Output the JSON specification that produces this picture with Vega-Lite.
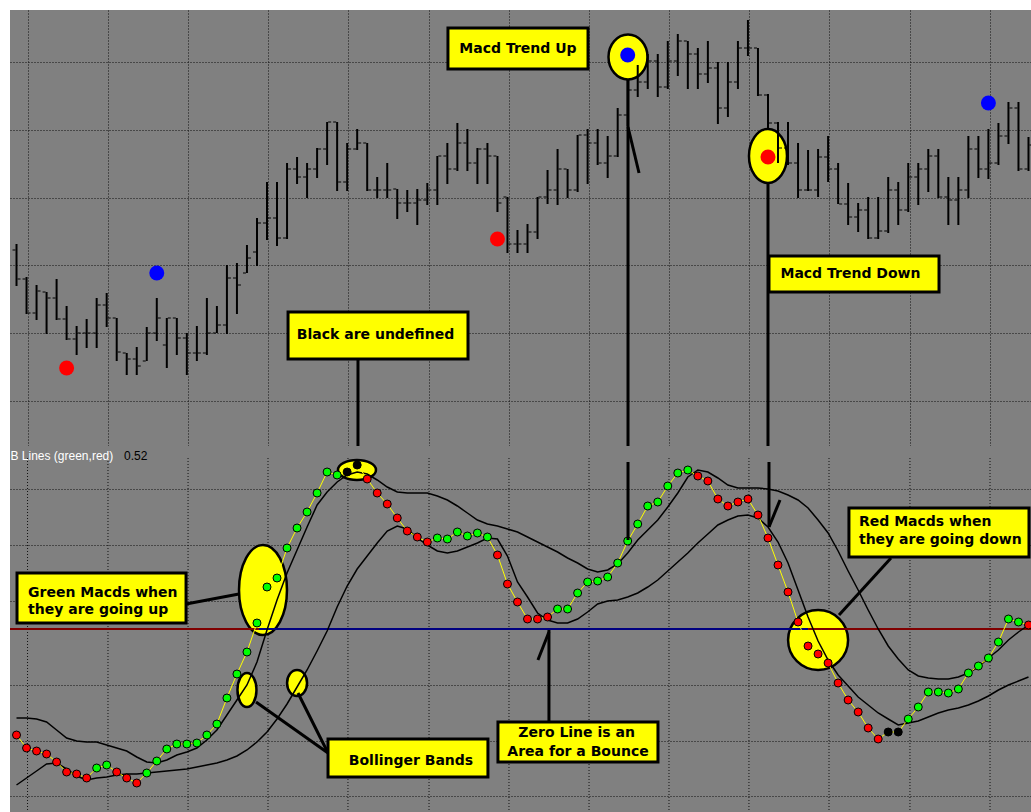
{
  "$schema": "https://vega.github.io/schema/vega-lite/v6.json",
  "background": "#ffffff",
  "padding": {"left": 9, "top": 10, "right": 0, "bottom": 0},
  "spacing": 0,
  "bounds": "flush",
  "resolve": {"scale": {"fill": "independent", "color": "independent"}},
  "config": {"view": {"stroke": null}},
  "datasets": {
    "bars": [
      {"i":0,"o":1.2197,"h":1.2203,"l":1.2161,"c":1.2168,"m":-0.106,"st":"down","ub":-0.089,"lb":-0.156},
      {"i":1,"o":1.2168,"h":1.2170,"l":1.2133,"c":1.2134,"m":-0.119,"st":"down","ub":-0.089,"lb":-0.149},
      {"i":2,"o":1.2134,"h":1.2162,"l":1.2127,"c":1.2156,"m":-0.122,"st":"down","ub":-0.090,"lb":-0.142},
      {"i":3,"o":1.2155,"h":1.2155,"l":1.2113,"c":1.2149,"m":-0.125,"st":"down","ub":-0.093,"lb":-0.135},
      {"i":4,"o":1.2149,"h":1.2168,"l":1.2127,"c":1.2128,"m":-0.133,"st":"down","ub":-0.101,"lb":-0.134},
      {"i":5,"o":1.2128,"h":1.2141,"l":1.2107,"c":1.2108,"m":-0.143,"st":"down","ub":-0.109,"lb":-0.140},
      {"i":6,"o":1.2108,"h":1.2121,"l":1.2092,"c":1.2114,"m":-0.145,"st":"down","ub":-0.112,"lb":-0.147},
      {"i":7,"o":1.2114,"h":1.2128,"l":1.2099,"c":1.2114,"m":-0.149,"st":"down","ub":-0.113,"lb":-0.151},
      {"i":8,"o":1.2114,"h":1.2149,"l":1.2099,"c":1.2142,"m":-0.139,"st":"up","ub":-0.113,"lb":-0.149},
      {"i":9,"o":1.2142,"h":1.2154,"l":1.2120,"c":1.2129,"m":-0.136,"st":"up","ub":-0.116,"lb":-0.148},
      {"i":10,"o":1.2129,"h":1.2129,"l":1.2086,"c":1.2095,"m":-0.143,"st":"down","ub":-0.119,"lb":-0.146},
      {"i":11,"o":1.2094,"h":1.2094,"l":1.2072,"c":1.2088,"m":-0.149,"st":"down","ub":-0.122,"lb":-0.145},
      {"i":12,"o":1.2088,"h":1.2100,"l":1.2072,"c":1.2081,"m":-0.154,"st":"down","ub":-0.128,"lb":-0.145},
      {"i":13,"o":1.2086,"h":1.2120,"l":1.2086,"c":1.2114,"m":-0.144,"st":"up","ub":-0.133,"lb":-0.144},
      {"i":14,"o":1.2114,"h":1.2149,"l":1.2106,"c":1.2129,"m":-0.132,"st":"up","ub":-0.134,"lb":-0.143},
      {"i":15,"o":1.2102,"h":1.2129,"l":1.2079,"c":1.2129,"m":-0.120,"st":"up","ub":-0.131,"lb":-0.142},
      {"i":16,"o":1.2129,"h":1.2129,"l":1.2092,"c":1.2109,"m":-0.115,"st":"up","ub":-0.126,"lb":-0.141},
      {"i":17,"o":1.2109,"h":1.2114,"l":1.2072,"c":1.2094,"m":-0.115,"st":"up","ub":-0.123,"lb":-0.140},
      {"i":18,"o":1.2094,"h":1.2121,"l":1.2086,"c":1.2094,"m":-0.114,"st":"up","ub":-0.119,"lb":-0.138},
      {"i":19,"o":1.2094,"h":1.2149,"l":1.2092,"c":1.2114,"m":-0.106,"st":"up","ub":-0.111,"lb":-0.136},
      {"i":20,"o":1.2114,"h":1.2141,"l":1.2114,"c":1.2122,"m":-0.095,"st":"up","ub":-0.101,"lb":-0.134},
      {"i":21,"o":1.2122,"h":1.2182,"l":1.2113,"c":1.2169,"m":-0.069,"st":"up","ub":-0.086,"lb":-0.131},
      {"i":22,"o":1.2169,"h":1.2184,"l":1.2133,"c":1.2162,"m":-0.045,"st":"up","ub":-0.071,"lb":-0.127},
      {"i":23,"o":1.2174,"h":1.2202,"l":1.2174,"c":1.2189,"m":-0.023,"st":"up","ub":-0.056,"lb":-0.121},
      {"i":24,"o":1.2195,"h":1.2229,"l":1.2181,"c":1.2224,"m":0.006,"st":"up","ub":-0.033,"lb":-0.113},
      {"i":25,"o":1.2224,"h":1.2265,"l":1.2207,"c":1.2229,"m":0.042,"st":"up","ub":-0.001,"lb":-0.103},
      {"i":26,"o":1.2229,"h":1.2265,"l":1.2201,"c":1.2209,"m":0.051,"st":"up","ub":0.029,"lb":-0.090},
      {"i":27,"o":1.2209,"h":1.2284,"l":1.2208,"c":1.2278,"m":0.081,"st":"up","ub":0.056,"lb":-0.075},
      {"i":28,"o":1.2278,"h":1.2290,"l":1.2263,"c":1.2270,"m":0.101,"st":"up","ub":0.079,"lb":-0.058},
      {"i":29,"o":1.2270,"h":1.2284,"l":1.2249,"c":1.2278,"m":0.117,"st":"up","ub":0.102,"lb":-0.041},
      {"i":30,"o":1.2278,"h":1.2299,"l":1.2269,"c":1.2298,"m":0.136,"st":"up","ub":0.124,"lb":-0.022},
      {"i":31,"o":1.2298,"h":1.2325,"l":1.2282,"c":1.2325,"m":0.157,"st":"up","ub":0.137,"lb":-0.002},
      {"i":32,"o":1.2325,"h":1.2325,"l":1.2256,"c":1.2265,"m":0.154,"st":"up","ub":0.147,"lb":0.022},
      {"i":33,"o":1.2265,"h":1.2304,"l":1.2256,"c":1.2298,"m":0.157,"st":"undef","ub":0.154,"lb":0.043},
      {"i":34,"o":1.2298,"h":1.2318,"l":1.2297,"c":1.2304,"m":0.164,"st":"undef","ub":0.157,"lb":0.060},
      {"i":35,"o":1.2304,"h":1.2304,"l":1.2256,"c":1.2257,"m":0.150,"st":"down","ub":0.155,"lb":0.073},
      {"i":36,"o":1.2257,"h":1.2270,"l":1.2249,"c":1.2257,"m":0.136,"st":"down","ub":0.149,"lb":0.086},
      {"i":37,"o":1.2257,"h":1.2284,"l":1.2249,"c":1.2257,"m":0.125,"st":"down","ub":0.142,"lb":0.098},
      {"i":38,"o":1.2258,"h":1.2258,"l":1.2228,"c":1.2244,"m":0.111,"st":"down","ub":0.137,"lb":0.103},
      {"i":39,"o":1.2244,"h":1.2257,"l":1.2235,"c":1.2244,"m":0.098,"st":"down","ub":0.136,"lb":0.100},
      {"i":40,"o":1.2244,"h":1.2258,"l":1.2222,"c":1.2247,"m":0.092,"st":"down","ub":0.136,"lb":0.091},
      {"i":41,"o":1.2247,"h":1.2264,"l":1.2242,"c":1.2257,"m":0.087,"st":"down","ub":0.136,"lb":0.084},
      {"i":42,"o":1.2257,"h":1.2291,"l":1.2242,"c":1.2291,"m":0.091,"st":"up","ub":0.133,"lb":0.078},
      {"i":43,"o":1.2291,"h":1.2304,"l":1.2263,"c":1.2278,"m":0.090,"st":"up","ub":0.129,"lb":0.076},
      {"i":44,"o":1.2278,"h":1.2324,"l":1.2276,"c":1.2304,"m":0.097,"st":"up","ub":0.123,"lb":0.078},
      {"i":45,"o":1.2304,"h":1.2318,"l":1.2276,"c":1.2284,"m":0.093,"st":"up","ub":0.116,"lb":0.082},
      {"i":46,"o":1.2284,"h":1.2299,"l":1.2263,"c":1.2298,"m":0.096,"st":"up","ub":0.109,"lb":0.086},
      {"i":47,"o":1.2298,"h":1.2304,"l":1.2263,"c":1.2291,"m":0.092,"st":"up","ub":0.105,"lb":0.091},
      {"i":48,"o":1.2291,"h":1.2291,"l":1.2235,"c":1.2244,"m":0.074,"st":"down","ub":0.103,"lb":0.090},
      {"i":49,"o":1.2250,"h":1.2250,"l":1.2194,"c":1.2203,"m":0.045,"st":"down","ub":0.100,"lb":0.073},
      {"i":50,"o":1.2203,"h":1.2217,"l":1.2194,"c":1.2203,"m":0.027,"st":"down","ub":0.097,"lb":0.047},
      {"i":51,"o":1.2203,"h":1.2223,"l":1.2194,"c":1.2215,"m":0.010,"st":"down","ub":0.092,"lb":0.032},
      {"i":52,"o":1.2215,"h":1.2250,"l":1.2208,"c":1.2250,"m":0.010,"st":"down","ub":0.087,"lb":0.016},
      {"i":53,"o":1.2250,"h":1.2277,"l":1.2243,"c":1.2257,"m":0.012,"st":"down","ub":0.082,"lb":0.009},
      {"i":54,"o":1.2257,"h":1.2298,"l":1.2242,"c":1.2278,"m":0.020,"st":"up","ub":0.077,"lb":0.006},
      {"i":55,"o":1.2278,"h":1.2278,"l":1.2249,"c":1.2257,"m":0.020,"st":"up","ub":0.071,"lb":0.006},
      {"i":56,"o":1.2257,"h":1.2312,"l":1.2255,"c":1.2312,"m":0.036,"st":"up","ub":0.066,"lb":0.010},
      {"i":57,"o":1.2312,"h":1.2318,"l":1.2263,"c":1.2304,"m":0.047,"st":"up","ub":0.060,"lb":0.017},
      {"i":58,"o":1.2304,"h":1.2318,"l":1.2282,"c":1.2284,"m":0.048,"st":"up","ub":0.057,"lb":0.025},
      {"i":59,"o":1.2284,"h":1.2311,"l":1.2269,"c":1.2291,"m":0.052,"st":"up","ub":0.059,"lb":0.028},
      {"i":60,"o":1.2291,"h":1.2339,"l":1.2290,"c":1.2332,"m":0.066,"st":"up","ub":0.065,"lb":0.029},
      {"i":61,"o":1.2332,"h":1.2367,"l":1.2321,"c":1.2357,"m":0.088,"st":"up","ub":0.076,"lb":0.032},
      {"i":62,"o":1.2357,"h":1.2382,"l":1.2350,"c":1.2365,"m":0.105,"st":"up","ub":0.089,"lb":0.036},
      {"i":63,"o":1.2365,"h":1.2393,"l":1.2358,"c":1.2386,"m":0.123,"st":"up","ub":0.099,"lb":0.042},
      {"i":64,"o":1.2386,"h":1.2393,"l":1.2350,"c":1.2360,"m":0.127,"st":"up","ub":0.109,"lb":0.049},
      {"i":65,"o":1.2360,"h":1.2406,"l":1.2358,"c":1.2386,"m":0.143,"st":"up","ub":0.122,"lb":0.058},
      {"i":66,"o":1.2386,"h":1.2413,"l":1.2371,"c":1.2406,"m":0.156,"st":"up","ub":0.136,"lb":0.067},
      {"i":67,"o":1.2406,"h":1.2406,"l":1.2358,"c":1.2393,"m":0.159,"st":"up","ub":0.152,"lb":0.076},
      {"i":68,"o":1.2393,"h":1.2399,"l":1.2358,"c":1.2373,"m":0.153,"st":"down","ub":0.159,"lb":0.086},
      {"i":69,"o":1.2373,"h":1.2406,"l":1.2364,"c":1.2379,"m":0.148,"st":"down","ub":0.157,"lb":0.095},
      {"i":70,"o":1.2379,"h":1.2385,"l":1.2323,"c":1.2339,"m":0.130,"st":"down","ub":0.151,"lb":0.104},
      {"i":71,"o":1.2339,"h":1.2385,"l":1.2330,"c":1.2365,"m":0.123,"st":"down","ub":0.144,"lb":0.109},
      {"i":72,"o":1.2365,"h":1.2406,"l":1.2358,"c":1.2399,"m":0.127,"st":"down","ub":0.141,"lb":0.113},
      {"i":73,"o":1.2399,"h":1.2427,"l":1.2391,"c":1.2399,"m":0.130,"st":"down","ub":0.141,"lb":0.114},
      {"i":74,"o":1.2399,"h":1.2399,"l":1.2351,"c":1.2352,"m":0.114,"st":"down","ub":0.141,"lb":0.111},
      {"i":75,"o":1.2352,"h":1.2353,"l":1.2317,"c":1.2324,"m":0.091,"st":"down","ub":0.140,"lb":0.102},
      {"i":76,"o":1.2324,"h":1.2325,"l":1.2284,"c":1.2299,"m":0.064,"st":"down","ub":0.138,"lb":0.087},
      {"i":77,"o":1.2299,"h":1.2325,"l":1.2282,"c":1.2284,"m":0.037,"st":"down","ub":0.134,"lb":0.066},
      {"i":78,"o":1.2284,"h":1.2304,"l":1.2249,"c":1.2257,"m":0.007,"st":"down","ub":0.129,"lb":0.039},
      {"i":79,"o":1.2257,"h":1.2297,"l":1.2256,"c":1.2257,"m":-0.017,"st":"down","ub":0.121,"lb":0.012},
      {"i":80,"o":1.2257,"h":1.2298,"l":1.2250,"c":1.2290,"m":-0.025,"st":"down","ub":0.109,"lb":-0.012},
      {"i":81,"o":1.2290,"h":1.2311,"l":1.2265,"c":1.2278,"m":-0.034,"st":"down","ub":0.096,"lb":-0.031},
      {"i":82,"o":1.2278,"h":1.2284,"l":1.2243,"c":1.2243,"m":-0.054,"st":"down","ub":0.078,"lb":-0.046},
      {"i":83,"o":1.2243,"h":1.2264,"l":1.2222,"c":1.2230,"m":-0.071,"st":"down","ub":0.058,"lb":-0.057},
      {"i":84,"o":1.2230,"h":1.2244,"l":1.2215,"c":1.2237,"m":-0.083,"st":"down","ub":0.039,"lb":-0.068},
      {"i":85,"o":1.2237,"h":1.2250,"l":1.2208,"c":1.2209,"m":-0.099,"st":"down","ub":0.019,"lb":-0.076},
      {"i":86,"o":1.2209,"h":1.2250,"l":1.2208,"c":1.2216,"m":-0.110,"st":"down","ub":0.000,"lb":-0.084},
      {"i":87,"o":1.2216,"h":1.2270,"l":1.2214,"c":1.2257,"m":-0.103,"st":"undef","ub":-0.017,"lb":-0.090},
      {"i":88,"o":1.2257,"h":1.2265,"l":1.2222,"c":1.2237,"m":-0.103,"st":"undef","ub":-0.030,"lb":-0.096},
      {"i":89,"o":1.2237,"h":1.2284,"l":1.2235,"c":1.2270,"m":-0.090,"st":"up","ub":-0.041,"lb":-0.094},
      {"i":90,"o":1.2270,"h":1.2284,"l":1.2242,"c":1.2278,"m":-0.078,"st":"up","ub":-0.047,"lb":-0.092},
      {"i":91,"o":1.2278,"h":1.2298,"l":1.2255,"c":1.2291,"m":-0.063,"st":"up","ub":-0.049,"lb":-0.088},
      {"i":92,"o":1.2291,"h":1.2298,"l":1.2249,"c":1.2250,"m":-0.063,"st":"up","ub":-0.050,"lb":-0.084},
      {"i":93,"o":1.2250,"h":1.2270,"l":1.2222,"c":1.2247,"m":-0.064,"st":"up","ub":-0.050,"lb":-0.081},
      {"i":94,"o":1.2247,"h":1.2270,"l":1.2222,"c":1.2257,"m":-0.060,"st":"up","ub":-0.048,"lb":-0.079},
      {"i":95,"o":1.2257,"h":1.2311,"l":1.2249,"c":1.2298,"m":-0.044,"st":"up","ub":-0.044,"lb":-0.076},
      {"i":96,"o":1.2298,"h":1.2311,"l":1.2269,"c":1.2278,"m":-0.037,"st":"up","ub":-0.038,"lb":-0.072},
      {"i":97,"o":1.2278,"h":1.2318,"l":1.2268,"c":1.2284,"m":-0.029,"st":"up","ub":-0.029,"lb":-0.067},
      {"i":98,"o":1.2284,"h":1.2324,"l":1.2282,"c":1.2311,"m":-0.013,"st":"up","ub":-0.021,"lb":-0.061},
      {"i":99,"o":1.2311,"h":1.2345,"l":1.2303,"c":1.2339,"m":0.010,"st":"up","ub":-0.011,"lb":-0.056},
      {"i":100,"o":1.2339,"h":1.2345,"l":1.2276,"c":1.2278,"m":0.007,"st":"up","ub":-0.003,"lb":-0.052},
      {"i":101,"o":1.2278,"h":1.2310,"l":1.2276,"c":1.2302,"m":0.004,"st":"down","ub":0.004,"lb":-0.048}
    ],
    "signals": [
      {"i":5,"p":1.2079,"dir":"sell"},
      {"i":14,"p":1.2174,"dir":"buy"},
      {"i":48,"p":1.2208,"dir":"sell"},
      {"i":61,"p":1.2392,"dir":"buy"},
      {"i":75,"p":1.2290,"dir":"sell"},
      {"i":97,"p":1.2344,"dir":"buy"}
    ],
    "ellipses": [
      {"name":"up","i":61.03,"v":1.2390},
      {"name":"down","i":75.0,"v":1.2291},
      {"name":"green","i":24.6,"v":0.039},
      {"name":"e1","i":23.0,"v":-0.061},
      {"name":"e2","i":28.0,"v":-0.054},
      {"name":"red","i":80.0,"v":-0.011},
      {"name":"blob","i":33.98,"v":0.159}
    ],
    "connTop": [
      {"x1":34.08,"y1":1.2088,"x2":34.08,"y2":1.2001},
      {"x1":61.03,"y1":1.2368,"x2":61.03,"y2":1.2001},
      {"x1":61.03,"y1":1.2320,"x2":62.13,"y2":1.2274},
      {"x1":75.0,"y1":1.2264,"x2":75.0,"y2":1.2001}
    ],
    "boxTop": [
      {"x1":27.10,"x2":45.06,"y1":1.2135,"y2":1.2088},
      {"x1":43.06,"x2":57.04,"y1":1.2419,"y2":1.2378},
      {"x1":75.1,"x2":92.07,"y1":1.2191,"y2":1.2155}
    ],
    "txtTop": [
      {"x":35.83,"y":1.2112,"t":"Black are undefined"},
      {"x":50.05,"y":1.2398,"t":"Macd Trend Up"},
      {"x":83.23,"y":1.2173,"t":"Macd Trend Down"}
    ],
    "connLow": [
      {"x1":16.92,"y1":0.025,"x2":22.2,"y2":0.035},
      {"x1":23.9,"y1":-0.073,"x2":31.09,"y2":-0.124},
      {"x1":28.09,"y1":-0.064,"x2":30.99,"y2":-0.122},
      {"x1":53.14,"y1":-0.001,"x2":53.14,"y2":-0.093},
      {"x1":53.14,"y1":-0.003,"x2":52.04,"y2":-0.031},
      {"x1":87.28,"y1":0.071,"x2":82.09,"y2":0.014},
      {"x1":61.03,"y1":0.167,"x2":61.03,"y2":0.089},
      {"x1":75.1,"y1":0.167,"x2":75.1,"y2":0.102},
      {"x1":75.1,"y1":0.102,"x2":76.2,"y2":0.129}
    ],
    "boxLow": [
      {"x1":0.05,"x2":16.92,"y1":0.056,"y2":0.006},
      {"x1":31.09,"x2":47.05,"y1":-0.110,"y2":-0.148},
      {"x1":48.05,"x2":64.02,"y1":-0.093,"y2":-0.133},
      {"x1":83.08,"x2":101.05,"y1":0.121,"y2":0.072}
    ],
    "txtLowLeft": [
      {"x":1.15,"y":0.036,"t":"Green Macds when"},
      {"x":1.15,"y":0.019,"t":"they are going up"},
      {"x":84.08,"y":0.107,"t":"Red Macds when"},
      {"x":84.08,"y":0.089,"t":"they are going down"}
    ],
    "txtLowCenter": [
      {"x":39.37,"y":-0.132,"t":"Bollinger Bands"},
      {"x":55.9,"y":-0.104,"t":"Zero Line is an"},
      {"x":56.04,"y":-0.123,"t":"Area for a Bounce"}
    ],
    "zero": [
      {"x1":-0.65,"x2":24.2,"s":"neg"},
      {"x1":24.2,"x2":79.0,"s":"pos"},
      {"x1":79.0,"x2":101.35,"s":"neg"}
    ],
    "gridx": [
      {"g":1.10},{"g":9.13},{"g":17.12},{"g":25.10},{"g":33.08},{"g":41.17},{"g":49.15},
      {"g":57.14},{"g":65.12},{"g":73.10},{"g":81.09},{"g":89.17},{"g":97.16}
    ],
    "hdrWhite": [{"x":-0.6,"y":0.173,"t":"B Lines (green,red)"}],
    "hdrBlack": [{"x":10.73,"y":0.173,"t":"0.52"}]
  },
  "vconcat": [
    {
      "width": 1022,
      "height": 436,
      "view": {"fill": "#808080", "stroke": null},
      "layer": [
        {
          "data": {"name": "ellipses"},
          "transform": [{"filter": "datum.name == 'up'"}],
          "mark": {"type": "point", "shape": "M0.867,0C0.867,0.552,0.479,1,0,1C-0.479,1,-0.867,0.552,-0.867,0C-0.867,-0.552,-0.479,-1,0,-1C0.479,-1,0.867,-0.552,0.867,0Z", "size": 2025, "filled": true, "fill": "#ffff00", "stroke": "#000000", "strokeWidth": 2.5, "opacity": 1},
          "encoding": {
            "x": {"field": "i", "type": "quantitative", "scale": {"domain": [-0.65, 101.35], "nice": false, "zero": false},
                  "axis": {"values": [1.10, 9.13, 17.12, 25.10, 33.08, 41.17, 49.15, 57.14, 65.12, 73.10, 81.09, 89.17, 97.16], "grid": true, "labels": false, "ticks": false, "domain": false, "title": null, "gridColor": "#111111", "gridDash": [1, 2], "gridWidth": 1, "gridOpacity": 1}},
            "y": {"field": "v", "type": "quantitative", "scale": {"domain": [1.2001, 1.2437], "nice": false, "zero": false},
                  "axis": {"values": [1.2046, 1.2114, 1.2182, 1.2249, 1.2317, 1.2385], "grid": true, "labels": false, "ticks": false, "domain": false, "title": null, "gridColor": "#111111", "gridDash": [1, 2], "gridWidth": 1, "gridOpacity": 1}}
          }
        },
        {
          "data": {"name": "ellipses"},
          "transform": [{"filter": "datum.name == 'down'"}],
          "mark": {"type": "point", "shape": "M0.704,0C0.704,0.552,0.389,1,0,1C-0.389,1,-0.704,0.552,-0.704,0C-0.704,-0.552,-0.389,-1,0,-1C0.389,-1,0.704,-0.552,0.704,0Z", "size": 2916, "filled": true, "fill": "#ffff00", "stroke": "#000000", "strokeWidth": 2.5, "opacity": 1},
          "encoding": {
            "x": {"field": "i", "type": "quantitative", "scale": {"domain": [-0.65, 101.35], "nice": false, "zero": false}},
            "y": {"field": "v", "type": "quantitative", "scale": {"domain": [1.2001, 1.2437], "nice": false, "zero": false}}
          }
        },
        {
          "data": {"name": "bars"},
          "mark": {"type": "rule", "color": "#000000", "strokeWidth": 2},
          "encoding": {
            "x": {"field": "i", "type": "quantitative", "scale": {"domain": [-0.65, 101.35], "nice": false, "zero": false}},
            "y": {"field": "h", "type": "quantitative", "scale": {"domain": [1.2001, 1.2437], "nice": false, "zero": false}},
            "y2": {"field": "l"}
          }
        },
        {
          "data": {"name": "bars"},
          "mark": {"type": "tick", "orient": "horizontal", "size": 3, "thickness": 1, "xOffset": -2.5, "color": "#000000", "opacity": 1},
          "encoding": {
            "x": {"field": "i", "type": "quantitative", "scale": {"domain": [-0.65, 101.35], "nice": false, "zero": false}},
            "y": {"field": "o", "type": "quantitative", "scale": {"domain": [1.2001, 1.2437], "nice": false, "zero": false}}
          }
        },
        {
          "data": {"name": "bars"},
          "mark": {"type": "tick", "orient": "horizontal", "size": 3, "thickness": 1, "xOffset": 2.5, "color": "#000000", "opacity": 1},
          "encoding": {
            "x": {"field": "i", "type": "quantitative", "scale": {"domain": [-0.65, 101.35], "nice": false, "zero": false}},
            "y": {"field": "c", "type": "quantitative", "scale": {"domain": [1.2001, 1.2437], "nice": false, "zero": false}}
          }
        },
        {
          "data": {"name": "signals"},
          "mark": {"type": "point", "shape": "circle", "size": 225, "filled": true, "strokeWidth": 0, "opacity": 1},
          "encoding": {
            "x": {"field": "i", "type": "quantitative", "scale": {"domain": [-0.65, 101.35], "nice": false, "zero": false}},
            "y": {"field": "p", "type": "quantitative", "scale": {"domain": [1.2001, 1.2437], "nice": false, "zero": false}},
            "fill": {"field": "dir", "type": "nominal", "scale": {"domain": ["buy", "sell"], "range": ["#0000ff", "#ff0000"]}, "legend": null}
          }
        },
        {
          "data": {"name": "connTop"},
          "mark": {"type": "rule", "color": "#000000", "strokeWidth": 3},
          "encoding": {
            "x": {"field": "x1", "type": "quantitative", "scale": {"domain": [-0.65, 101.35], "nice": false, "zero": false}},
            "x2": {"field": "x2"},
            "y": {"field": "y1", "type": "quantitative", "scale": {"domain": [1.2001, 1.2437], "nice": false, "zero": false}},
            "y2": {"field": "y2"}
          }
        },
        {
          "data": {"name": "boxTop"},
          "mark": {"type": "rect", "fill": "#ffff00", "stroke": "#000000", "strokeWidth": 3},
          "encoding": {
            "x": {"field": "x1", "type": "quantitative", "scale": {"domain": [-0.65, 101.35], "nice": false, "zero": false}},
            "x2": {"field": "x2"},
            "y": {"field": "y1", "type": "quantitative", "scale": {"domain": [1.2001, 1.2437], "nice": false, "zero": false}},
            "y2": {"field": "y2"}
          }
        },
        {
          "data": {"name": "txtTop"},
          "mark": {"type": "text", "font": "DejaVu Sans", "fontWeight": "bold", "fontSize": 14, "color": "#000000", "align": "center", "baseline": "middle"},
          "encoding": {
            "x": {"field": "x", "type": "quantitative", "scale": {"domain": [-0.65, 101.35], "nice": false, "zero": false}},
            "y": {"field": "y", "type": "quantitative", "scale": {"domain": [1.2001, 1.2437], "nice": false, "zero": false}},
            "text": {"field": "t"}
          }
        }
      ]
    },
    {
      "width": 1022,
      "height": 366,
      "view": {"fill": "#808080", "stroke": null},
      "layer": [
        {
          "data": {"name": "gridx"},
          "mark": {"type": "rule", "color": "#111111", "strokeWidth": 1, "strokeDash": [1, 2]},
          "encoding": {
            "x": {"field": "g", "type": "quantitative", "scale": {"domain": [-0.65, 101.35], "nice": false, "zero": false}, "axis": null},
            "y": {"datum": 0.171, "type": "quantitative", "scale": {"domain": [-0.183, 0.183], "nice": false, "zero": false},
                  "axis": {"values": [-0.1674, -0.1395, -0.1116, -0.0837, -0.0558, -0.0279, 0.0279, 0.0558, 0.0837, 0.1116, 0.1395], "grid": true, "labels": false, "ticks": false, "domain": false, "title": null, "gridColor": "#111111", "gridDash": [1, 2], "gridWidth": 1, "gridOpacity": 1}},
            "y2": {"datum": -0.183}
          }
        },
        {
          "data": {"name": "ellipses"},
          "transform": [{"filter": "datum.name == 'green'"}],
          "mark": {"type": "point", "shape": "M0.533,0C0.533,0.552,0.294,1,0,1C-0.294,1,-0.533,0.552,-0.533,0C-0.533,-0.552,-0.294,-1,0,-1C0.294,-1,0.533,-0.552,0.533,0Z", "size": 8100, "filled": true, "fill": "#ffff00", "stroke": "#000000", "strokeWidth": 2.5, "opacity": 1},
          "encoding": {
            "x": {"field": "i", "type": "quantitative", "scale": {"domain": [-0.65, 101.35], "nice": false, "zero": false}},
            "y": {"field": "v", "type": "quantitative", "scale": {"domain": [-0.183, 0.183], "nice": false, "zero": false}}
          }
        },
        {
          "data": {"name": "ellipses"},
          "transform": [{"filter": "datum.name == 'e1'"}],
          "mark": {"type": "point", "shape": "M0.559,0C0.559,0.552,0.309,1,0,1C-0.309,1,-0.559,0.552,-0.559,0C-0.559,-0.552,-0.309,-1,0,-1C0.309,-1,0.559,-0.552,0.559,0Z", "size": 1156, "filled": true, "fill": "#ffff00", "stroke": "#000000", "strokeWidth": 2.5, "opacity": 1},
          "encoding": {
            "x": {"field": "i", "type": "quantitative", "scale": {"domain": [-0.65, 101.35], "nice": false, "zero": false}},
            "y": {"field": "v", "type": "quantitative", "scale": {"domain": [-0.183, 0.183], "nice": false, "zero": false}}
          }
        },
        {
          "data": {"name": "ellipses"},
          "transform": [{"filter": "datum.name == 'e2'"}],
          "mark": {"type": "point", "shape": "M0.769,0C0.769,0.552,0.425,1,0,1C-0.425,1,-0.769,0.552,-0.769,0C-0.769,-0.552,-0.425,-1,0,-1C0.425,-1,0.769,-0.552,0.769,0Z", "size": 676, "filled": true, "fill": "#ffff00", "stroke": "#000000", "strokeWidth": 2.5, "opacity": 1},
          "encoding": {
            "x": {"field": "i", "type": "quantitative", "scale": {"domain": [-0.65, 101.35], "nice": false, "zero": false}},
            "y": {"field": "v", "type": "quantitative", "scale": {"domain": [-0.183, 0.183], "nice": false, "zero": false}}
          }
        },
        {
          "data": {"name": "ellipses"},
          "transform": [{"filter": "datum.name == 'red'"}],
          "mark": {"type": "point", "shape": "circle", "size": 3600, "filled": true, "fill": "#ffff00", "stroke": "#000000", "strokeWidth": 2.5, "opacity": 1},
          "encoding": {
            "x": {"field": "i", "type": "quantitative", "scale": {"domain": [-0.65, 101.35], "nice": false, "zero": false}},
            "y": {"field": "v", "type": "quantitative", "scale": {"domain": [-0.183, 0.183], "nice": false, "zero": false}}
          }
        },
        {
          "data": {"name": "ellipses"},
          "transform": [{"filter": "datum.name == 'blob'"}],
          "mark": {"type": "point", "shape": "M1,0C1,0.291,0.552,0.526,0,0.526C-0.552,0.526,-1,0.291,-1,0C-1,-0.291,-0.552,-0.526,0,-0.526C0.552,-0.526,1,-0.291,1,0Z", "size": 1444, "filled": true, "fill": "#ffff00", "stroke": "#000000", "strokeWidth": 2.5, "opacity": 1},
          "encoding": {
            "x": {"field": "i", "type": "quantitative", "scale": {"domain": [-0.65, 101.35], "nice": false, "zero": false}},
            "y": {"field": "v", "type": "quantitative", "scale": {"domain": [-0.183, 0.183], "nice": false, "zero": false}}
          }
        },
        {
          "data": {"name": "zero"},
          "mark": {"type": "rule", "strokeWidth": 2},
          "encoding": {
            "x": {"field": "x1", "type": "quantitative", "scale": {"domain": [-0.65, 101.35], "nice": false, "zero": false}},
            "x2": {"field": "x2"},
            "y": {"datum": 0, "type": "quantitative", "scale": {"domain": [-0.183, 0.183], "nice": false, "zero": false}},
            "color": {"field": "s", "type": "nominal", "scale": {"domain": ["neg", "pos"], "range": ["#800000", "#000080"]}, "legend": null}
          }
        },
        {
          "data": {"name": "bars"},
          "mark": {"type": "line", "color": "#000000", "strokeWidth": 1.5},
          "encoding": {
            "x": {"field": "i", "type": "quantitative", "scale": {"domain": [-0.65, 101.35], "nice": false, "zero": false}},
            "y": {"field": "ub", "type": "quantitative", "scale": {"domain": [-0.183, 0.183], "nice": false, "zero": false}}
          }
        },
        {
          "data": {"name": "bars"},
          "mark": {"type": "line", "color": "#000000", "strokeWidth": 1.5},
          "encoding": {
            "x": {"field": "i", "type": "quantitative", "scale": {"domain": [-0.65, 101.35], "nice": false, "zero": false}},
            "y": {"field": "lb", "type": "quantitative", "scale": {"domain": [-0.183, 0.183], "nice": false, "zero": false}}
          }
        },
        {
          "data": {"name": "bars"},
          "mark": {"type": "line", "color": "#ffff00", "strokeWidth": 1},
          "encoding": {
            "x": {"field": "i", "type": "quantitative", "scale": {"domain": [-0.65, 101.35], "nice": false, "zero": false}},
            "y": {"field": "m", "type": "quantitative", "scale": {"domain": [-0.183, 0.183], "nice": false, "zero": false}}
          }
        },
        {
          "data": {"name": "bars"},
          "mark": {"type": "point", "shape": "circle", "size": 64, "filled": true, "stroke": "#000000", "strokeWidth": 1, "opacity": 1},
          "encoding": {
            "x": {"field": "i", "type": "quantitative", "scale": {"domain": [-0.65, 101.35], "nice": false, "zero": false}},
            "y": {"field": "m", "type": "quantitative", "scale": {"domain": [-0.183, 0.183], "nice": false, "zero": false}},
            "fill": {"field": "st", "type": "nominal", "scale": {"domain": ["up", "down", "undef"], "range": ["#00ff00", "#ff0000", "#000000"]}, "legend": null}
          }
        },
        {
          "data": {"name": "connLow"},
          "mark": {"type": "rule", "color": "#000000", "strokeWidth": 3},
          "encoding": {
            "x": {"field": "x1", "type": "quantitative", "scale": {"domain": [-0.65, 101.35], "nice": false, "zero": false}},
            "x2": {"field": "x2"},
            "y": {"field": "y1", "type": "quantitative", "scale": {"domain": [-0.183, 0.183], "nice": false, "zero": false}},
            "y2": {"field": "y2"}
          }
        },
        {
          "data": {"name": "boxLow"},
          "mark": {"type": "rect", "fill": "#ffff00", "stroke": "#000000", "strokeWidth": 3},
          "encoding": {
            "x": {"field": "x1", "type": "quantitative", "scale": {"domain": [-0.65, 101.35], "nice": false, "zero": false}},
            "x2": {"field": "x2"},
            "y": {"field": "y1", "type": "quantitative", "scale": {"domain": [-0.183, 0.183], "nice": false, "zero": false}},
            "y2": {"field": "y2"}
          }
        },
        {
          "data": {"name": "txtLowLeft"},
          "mark": {"type": "text", "font": "DejaVu Sans", "fontWeight": "bold", "fontSize": 14, "color": "#000000", "align": "left", "baseline": "middle"},
          "encoding": {
            "x": {"field": "x", "type": "quantitative", "scale": {"domain": [-0.65, 101.35], "nice": false, "zero": false}},
            "y": {"field": "y", "type": "quantitative", "scale": {"domain": [-0.183, 0.183], "nice": false, "zero": false}},
            "text": {"field": "t"}
          }
        },
        {
          "data": {"name": "txtLowCenter"},
          "mark": {"type": "text", "font": "DejaVu Sans", "fontWeight": "bold", "fontSize": 14, "color": "#000000", "align": "center", "baseline": "middle"},
          "encoding": {
            "x": {"field": "x", "type": "quantitative", "scale": {"domain": [-0.65, 101.35], "nice": false, "zero": false}},
            "y": {"field": "y", "type": "quantitative", "scale": {"domain": [-0.183, 0.183], "nice": false, "zero": false}},
            "text": {"field": "t"}
          }
        },
        {
          "data": {"name": "hdrWhite"},
          "mark": {"type": "text", "font": "Liberation Sans", "fontSize": 12, "color": "#ffffff", "align": "left", "baseline": "middle"},
          "encoding": {
            "x": {"field": "x", "type": "quantitative", "scale": {"domain": [-0.65, 101.35], "nice": false, "zero": false}},
            "y": {"field": "y", "type": "quantitative", "scale": {"domain": [-0.183, 0.183], "nice": false, "zero": false}},
            "text": {"field": "t"}
          }
        },
        {
          "data": {"name": "hdrBlack"},
          "mark": {"type": "text", "font": "Liberation Sans", "fontSize": 12, "color": "#000000", "align": "left", "baseline": "middle"},
          "encoding": {
            "x": {"field": "x", "type": "quantitative", "scale": {"domain": [-0.65, 101.35], "nice": false, "zero": false}},
            "y": {"field": "y", "type": "quantitative", "scale": {"domain": [-0.183, 0.183], "nice": false, "zero": false}},
            "text": {"field": "t"}
          }
        }
      ]
    }
  ]
}
